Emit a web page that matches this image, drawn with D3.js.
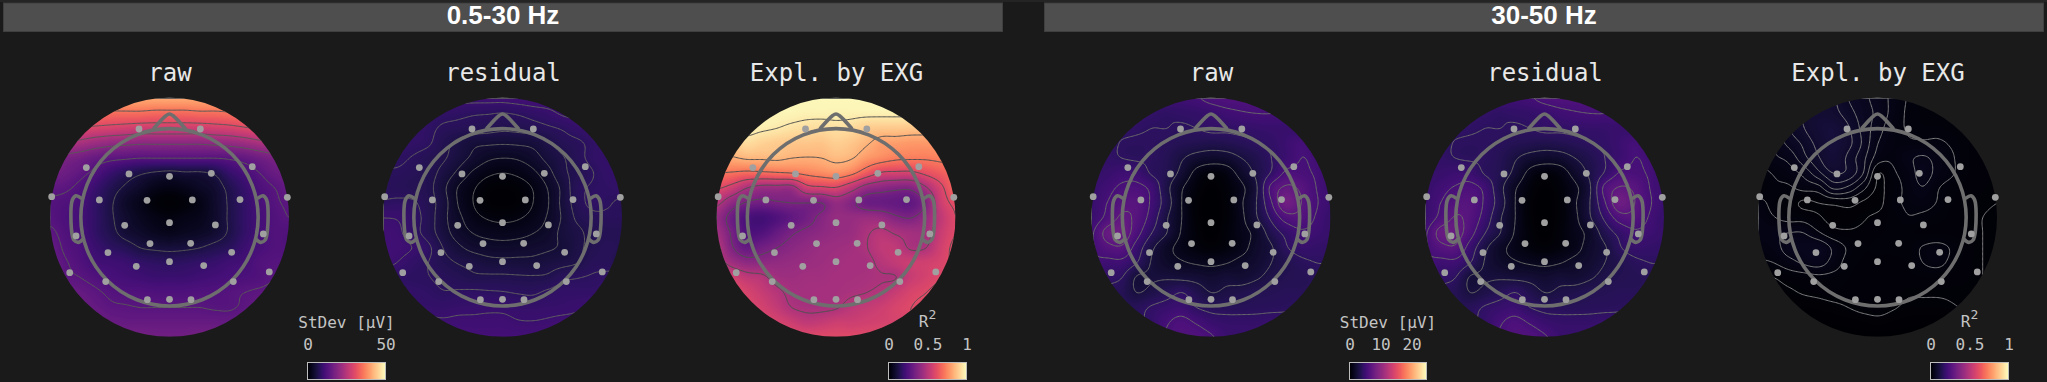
<!DOCTYPE html>
<html>
<head>
<meta charset="utf-8">
<script src="https://cdn.jsdelivr.net/npm/d3@7"></script>
<style>
html, body { margin: 0; padding: 0; background: #1a1a1a; }
svg { display: block; }
.bandTitle { font-family: "Liberation Sans", sans-serif; font-weight: bold; font-size: 26px; fill: #fff; text-anchor: middle; }
.panelTitle { font-family: "DejaVu Sans Mono", monospace; font-size: 24px; fill: #e8e8e8; text-anchor: middle; }
.barTitle { font-family: "DejaVu Sans Mono", monospace; font-size: 16px; fill: #c4c4c4; text-anchor: middle; }
.barAxis text { font-family: "DejaVu Sans Mono", monospace; font-size: 16px; fill: #c4c4c4; }
</style>
</head>
<body>
<div id="chart"></div>
<script>
/* sensor positions, unit = topomap radius, y up */
var sensorX = [-.255,.258,-.696,-.339,0,.35,.693,-.986,-.587,-.188,.191,.59,.986,-.782,-.375,0,.384,.785,-.515,-.163,.177,.52,-.278,0,.286,-.835,.835,-.534,.534,-.185,0,.18]
var sensorY = [.739,.739,.416,.363,.343,.368,.424,.173,.145,.142,.145,.148,.167,-.156,-.067,-.045,-.064,-.139,-.296,-.22,-.218,-.293,-.41,-.371,-.404,-.463,-.457,-.538,-.538,-.689,-.686,-.689]

var bandTitles = ["0.5-30 Hz","30-50 Hz"]
var panelTitles = ["raw","residual","Expl. by EXG"]

/* field values, percent of the colour range,
   17 x 17 cells, rows top to bottom, columns left to right */
var rawWide = [
[82,82,82,82,82,82,82,82,82,82,82,82,82,82,82,82,82],
[72,72,71,71,70,70,70,69,69,69,70,70,71,72,73,73,73],
[61,61,60,59,58,57,56,56,56,56,56,57,58,60,62,62,62],
[49,49,47,44,42,41,40,40,40,40,40,41,42,44,47,49,49],
[38,36,34,31,29,28,27,27,27,27,27,27,28,30,33,36,38],
[34,32,29,25,20,16,13,11,10,11,11,13,19,23,27,31,33],
[29,28,25,20,15,11,8,5,4,5,7,9,14,19,24,27,30],
[26,25,23,18,13,8,5,2,1,2,4,8,13,18,23,26,28],
[26,24,22,18,13,9,6,4,3,4,5,8,13,18,22,25,27],
[28,25,23,18,14,10,8,6,5,6,7,9,13,18,22,25,25],
[30,26,24,20,17,15,12,11,10.5,11,12,14,16,20,23,25,25],
[31,27.5,25,22,21,20,18,17,16.5,17,18,19,21,22,25,26,26],
[33,28.5,27,25,23,22,21,20,20,20,21,22,23,24,25,27,28],
[35,32,30,28,26,25,25,24.5,24.5,24.5,25,25,26,27,28,29,30],
[37,34,32,30,28,27.5,27,27,27,27,27,26.5,26.5,28,30,32,33],
[39,36,34,33,31,30,30,30,30,30,30,30,30,31,33,35,37],
[39,39,37,36,35,34,34,33,33,33,34,34,35,36,37,39,39]]

var residualWide = [
[21,21,21,21,21,21,21,21,21,21.5,22,22,22,22,21,21,21],
[19,19,19,18.5,18,17.5,17,16.8,16.5,17,18,19,20.5,21,21,20,19],
[18,18,18,17.5,16,15.5,15,14.5,14,14.3,15,16,17,18.5,19,18.5,18],
[18,18,17.8,17,14.5,12.5,10.8,10.5,10.3,10.5,11,12.8,15,16,17.5,18,18],
[17.5,17.2,16.3,15,13.7,11.5,9.2,7.2,6.6,7,8.5,11,13,15.5,17.5,18.3,18],
[16.2,16.2,15.5,14.5,12.2,9.2,6,4,3.3,4,5.8,8.8,12.5,14.5,16.5,18,18],
[15.8,15.6,15,14.2,10.8,6.4,3.7,1.5,1,1.5,3.5,6.8,11,15.5,17,17.5,18],
[17,17.3,17,14.7,11.5,6.4,3.3,1,.5,1,3.3,6.4,11,15,17.5,16.9,16],
[20,19.7,18,15,11,7.5,4.5,3,2.5,3,4.5,7,10.5,14,15.5,16,16],
[21,20.5,18,15,11.5,8.5,6.5,5.5,5.2,5.5,6.5,8,11,12.5,14.5,15,15],
[21.5,21,19.8,17.3,13.2,10.7,9,8.3,8,8.3,8.8,9.5,10.6,12.5,14.5,15.5,15],
[21,19.8,18,16.6,14.5,13.1,12.2,11.2,11,11,11,11.7,12.3,13.3,15.5,15.5,15],
[18,17.5,17,16.7,15.8,15,14,14,14,13.8,13.7,14,15.9,16.5,17,17.5,18],
[19,18.5,18,17.5,16.8,17,17.2,17,16.8,16.4,16.2,17.2,18,18,18,18.5,19],
[21,20,18.5,18.5,18.3,18.8,19,19.3,19.2,18.6,18.5,18.8,19,19.6,20.5,21,21],
[21,21,21,21,20.7,21,21,21,21,20.3,20.2,20.5,21,21,21,21,21],
[22,22,22,22,22,22,22,22,22,22,22,22,22,22,22,22,22]]

var explWide = [
[99,99,99,99,99,99,99,99,99,99,99,99,99,99,99,99,99],
[98,98,98,98,98,98,97.5,97.5,97.5,97.5,97.5,97.5,97.5,97.5,97.5,97.5,97.5],
[98,98,98,97,96,94.5,93.5,93,94,93,90,89,89,88.5,88.5,89,90],
[90,90,93,91,89.5,88.5,88.5,88,90,88.5,85,80.5,80,79,79,80,81],
[82,83,85,85,85.5,84,83.5,84,86,84.5,79,76,73.5,73,73,74,75],
[72,71,69.5,70,71,72,74,76,77.5,74,66,59,58,58,62,66,69],
[61,56,48,44,44,44,56,58,59,52,43,40,38,38,47,58,68],
[50,41,35,33.5,35,36,36,36,42,38,32,31,30,29,37,55,62],
[42,32,24,22,25,29,33,38,42,42,43,42,37.5,36,42,52,60],
[45,34.5,25,25,30,35,38,40,42,43,47,50,47,45,45.5,54,60],
[50,37,30,33,36,39,41,43,44,45,47.7,52,52,47,48,56,62],
[52,44.5,40,40,41,42,43,44,45,46,46,50,53,55,56,58,62],
[62,57,52,50,45,44,45,45,46,46,46.5,47.5,48,54,57,60,64],
[66,62,58,54,50,46,45.5,46,46,47,48,50,54,58,60,63,66],
[66,63,60,57,53,48,46.5,46.5,47.5,51,53,55,58,60,62,64,66],
[66,64,62,60,58,55,52,53,55,55,56,57,58,60,62,64,66],
[68,66,65,64,62,61,60,60,60,60,60,61,62,64,65,66,68]]

var rawHigh = [
[20,20,20,20,20,21,21,22,24,25,25,25,25,24,22,21,21],
[19,19,19,18.5,18,17.5,18,18.5,19.5,21,22,22.5,22.5,21.5,20,19,19],
[18,18,18,17.5,17,17,16.5,17,18,18,18.5,19,19.5,19.5,18.5,19,19],
[18,18,16.8,16.5,16.5,16,15,14.5,14,14.5,15.5,16.8,18,20,22,20,19],
[18.5,18,17,16.5,16.5,15,12,9.5,8.5,9,11.5,14,17,20,22.5,21.5,20],
[18.5,19,20.5,20,16.5,14.5,10,4.5,2.5,3.5,8,12.5,17.5,23.5,23.5,22,20],
[19,21,23.5,24,21,13,6.5,2.5,.5,2,5,11,24,29,27,22.5,20],
[19.5,22.5,26,26.5,21.5,14,6,1.5,0,1.5,5.5,11.5,22,33,28,23,20],
[19.5,24,29,26.5,20,12,6,1.5,0,1.5,5,11,18,25,26,22,19],
[22,30,31.5,24.5,17,11.5,5.5,2,0,2,4.5,7.5,14,18.5,21.5,20.5,19],
[22,26,27,20,12.5,7.5,4.5,2.5,1.5,2.5,4.5,8,11,16.5,19,18.5,18],
[22,21,21,17,11,8,6.5,5.5,5,5.8,7.5,9,11.5,14,16,17,17],
[19,18,17,11,11,11,10.5,10,9,10,9.5,11,13,14.5,15,15.5,16],
[18,16.5,15,11.5,13,15,17,14,11.5,12.5,13.5,14.5,15,15.5,15.5,16,16],
[17,16,15.5,15.5,17.5,19,20,17,15.5,15.5,15.5,15.8,16,16.3,17,18,18],
[18,17,16.5,16.5,18.5,22,24,22,19.5,18.5,18.5,18.5,19,19,19,19,19],
[19,19,19,19,20,23,25,25,23,20,19,19,19,19,19,19,19]]

var residualHigh = [
[20,20,20,20,20,21,21,22,24,25,25,25,25,24,22,21,21],
[19,19,19,18.5,18,17.5,18,18.5,19.5,21,22,22.5,22.5,21.5,20,19,19],
[18,18,18,17.5,17,17,16.5,17,18,18,18.5,19,19,19.5,18.5,19,19],
[18,18,16.8,16.5,16.5,16,15,14.5,14,14.5,15.5,16.8,18,20,22,20,19],
[18.5,18,17,16.5,16.5,15,12,9.5,8.5,9,11.5,14,17,20,22.5,21.5,20],
[18.5,19,20,20,16.5,14.5,10,4.5,2.5,3.5,8,12.5,17.5,23,23.5,22,20],
[19,21,23,24,21,13,6.5,2.5,.5,2,5,11,24,28.5,27,22.5,20],
[19.5,22.5,25.5,26,21.5,14,6,1.5,0,1.5,5.5,11.5,22,32,28,23,20],
[19.5,24,28.5,26,20,12,6,1.5,0,1.5,5,11,18,25,26,22,19],
[22,30,30.5,24.5,17,11.5,5.5,2,0,2,4.5,7.5,14,18.5,21.5,20.5,19],
[22,26,27,20,12.5,7.5,4.5,2.5,1.5,2.5,4.5,8,11,16.5,19,18.5,18],
[22,21,21,17,11,8,6.5,5.5,5,5.8,7.5,9,11.5,14,16,17,17],
[19,18,17,11,11,11,10.5,10,9,10,9.5,11,13,14.5,15,15.5,16],
[18,16.5,15,11.5,13,15,17,14,11.5,12.5,13.5,14.5,15,15.5,15.5,16,16],
[17,16,15.5,15.5,17.5,19,20,17,15.5,15.5,15.5,15.8,16,16.3,17,18,18],
[18,17,16.5,16.5,18.5,22,24,22,19.5,18.5,18.5,18.5,19,19,19,19,19],
[19,19,19,19,20,23,25,25,23,20,19,19,19,19,19,19,19]]

var explHigh = [
[7,7,7,8,8.5,8.6,7,6,5,3.8,2.7,2.3,2,2,2,2,2],
[6.5,7,7.5,8.5,9.5,9,7.6,6.3,5.2,3.7,2.6,2.3,2,2,2,2,2],
[4,5.8,7,8.3,9.8,10.5,8.6,6.5,4.8,3.3,2.7,2.4,2.4,2.2,2,2,2],
[3.2,4.4,6,7.3,9,10.5,8.9,6.7,4.2,3.2,3,3,3,2.6,2,1.8,1.8],
[2.8,3.9,4.6,6.5,8.2,10,8,6,3.5,3,3.9,4.4,3.7,2.9,2,1.8,1.6],
[2.4,2.9,3.5,4.6,6.6,8.4,8,5.6,1.5,2.6,3.4,4.8,3.7,2.9,2,1.7,1.5],
[1.9,2.6,2.6,3.2,3.6,5.8,5.2,3.2,1.2,2.2,3.2,4.1,2.9,2.2,1.8,1.6,1.5],
[3.2,2.4,2,1.2,1.4,1.7,1.9,1.2,1,2.4,3,3.3,2.7,2,1.7,1.5,1.4],
[3.6,2.9,2.4,2.3,1.6,1,1,1.3,1.7,2.1,2.7,2.5,2.2,1.8,1.6,1.4,1.3],
[3.8,3.9,4.2,4.2,3,1.9,1.6,1.7,1.9,2,2,1.9,1.9,1.8,1.6,1.4,1.2],
[3.2,3.6,4.8,5.2,5.4,3.9,2.6,2,2,2,2.2,2.9,3.2,2.6,1.8,1.4,1.2],
[2.6,2.8,3.6,4.4,4.8,3.6,2.3,1.9,1.9,1.9,2,2.8,3.1,2.4,1.7,1.4,1.2],
[1.3,1.4,1.9,2.1,2.4,2.3,2,1.7,1.7,1.7,1.8,2,2,1.8,1.6,1.4,1.2],
[1,1,1.2,1.5,1.7,1.9,1.8,1.7,1.7,1.7,1.5,1.5,1.5,1.5,1.5,1.4,1.2],
[.8,.8,.8,.8,.9,1.1,1.4,1.7,1.8,1.5,1.2,1.2,1.2,1.3,1.5,1.4,1.2],
[.5,.5,.5,.5,.5,.5,.6,.8,1,.8,.6,.5,.5,.5,.6,.6,.6],
[.2,.2,.2,.2,.2,.2,.2,.2,.2,.2,.2,.2,.2,.2,.2,.2,.2]]

/* contour levels for the panels, same units as the fields */
var levelsRawWide = [12,27,39,50,61,72]
var levelsResidualWide = [3.3,6.6,10,13.3,16.6,20]
var levelsExplWide = [36,48,60,72,84,96]
var levelsRawHigh = [6,11.5,17,22.5,28,33.5]
var levelsResidualHigh = [6,11.5,17,22.5,28,33.5]
var levelsExplHigh = [1.4,2.8,4.2,5.6,7,8.4]

/* colour bars */
var barWideDomain = [0,50]
var barWideTicks = [0,50]
var barHighDomain = [0,24.8]
var barHighTicks = [0,10,20]
var barR2Domain = [0,1]
var barR2Ticks = [0,0.5,1]

/* head outline, unit = topomap radius */
var noseX = [-.13,-.03,0,.03,.13]
var noseY = [.745,.85,.865,.85,.745]
var earX = [-.74,-.782,-.813,-.82,-.80,-.763,-.727]
var earY = [.16,.18,.145,-.105,-.19,-.21,-.185]
var headRadius = .742

var width = 2047
var height = 382
var radius = 119.5
var centerY = 217.3
var contourSize = 193

var svg = d3.select("#chart").append("svg")
  .attr("width",width)
  .attr("height",height)
var defs = svg.append("defs")

var colorScale = d3.scaleSequential(d3.interpolateMagma).domain([0,100])

/* header bars */
svg.append("rect")
  .attr("width",width)
  .attr("height",2)
  .attr("fill","#242424")
var bandBars = [
  {x:3,w:1000,title:bandTitles[0]},
  {x:1044,w:1000,title:bandTitles[1]}
]
bandBars.forEach(function(b) {
  svg.append("rect")
    .attr("x",b.x + .5)
    .attr("y",3)
    .attr("width",b.w - 1)
    .attr("height",28.5)
    .attr("fill","#4e4e4e")
    .attr("stroke","#3f3f3f")
    .attr("stroke-width",1)
  svg.append("text")
    .attr("class","bandTitle")
    .attr("x",b.x + b.w / 2)
    .attr("y",24)
    .text(b.title)
})

/* smooth reading of a value grid */
function cubic(p0,p1,p2,p3,t) {
  return p1 + .5 * t * (p2 - p0 + t * (2 * p0 - 5 * p1 + 4 * p2 - p3 + t * (3 * (p1 - p2) + p3 - p0)))
}
function sampleGrid(grid,gx,gy) {
  var n = grid.length
  var ix = Math.max(0,Math.min(n - 2,Math.floor(gx)))
  var iy = Math.max(0,Math.min(n - 2,Math.floor(gy)))
  var tx = gx - ix
  var ty = gy - iy
  function cell(r,c) {
    return grid[Math.max(0,Math.min(n - 1,r))][Math.max(0,Math.min(n - 1,c))]
  }
  var rows = [-1,0,1,2].map(function(dr) {
    return cubic(cell(iy + dr,ix - 1),cell(iy + dr,ix),cell(iy + dr,ix + 1),cell(iy + dr,ix + 2),tx)
  })
  return cubic(rows[0],rows[1],rows[2],rows[3],ty)
}

function drawTopomap(cx,title,grid,levels,lineColor,id) {
  var xScale = d3.scaleLinear().domain([-1,1]).range([cx - radius,cx + radius])
  var yScale = d3.scaleLinear().domain([-1,1]).range([centerY + radius,centerY - radius])

  svg.append("text")
    .attr("class","panelTitle")
    .attr("x",cx + .5)
    .attr("y",81)
    .text(title)

  defs.append("clipPath")
    .attr("id",id)
    .append("circle")
    .attr("cx",cx)
    .attr("cy",centerY)
    .attr("r",radius)

  /* heat image */
  var size = Math.round(radius * 2)
  var canvas = document.createElement("canvas")
  canvas.width = size
  canvas.height = size
  var ctx = canvas.getContext("2d")
  var img = ctx.createImageData(size,size)
  for (var py = 0; py < size; py++) {
    for (var px = 0; px < size; px++) {
      var v = sampleGrid(grid,(px + .5) / size * (grid.length - 1),(py + .5) / size * (grid.length - 1))
      var c = d3.rgb(colorScale(Math.max(0,Math.min(100,v))))
      var k = (py * size + px) * 4
      img.data[k] = c.r
      img.data[k + 1] = c.g
      img.data[k + 2] = c.b
      img.data[k + 3] = 255
    }
  }
  ctx.putImageData(img,0,0)
  svg.append("image")
    .attr("x",cx - radius)
    .attr("y",centerY - radius)
    .attr("width",radius * 2)
    .attr("height",radius * 2)
    .attr("href",canvas.toDataURL())
    .attr("clip-path","url(#" + id + ")")

  /* contour lines */
  var values = new Array(contourSize * contourSize)
  for (var j = 0; j < contourSize; j++) {
    for (var i = 0; i < contourSize; i++) {
      values[j * contourSize + i] = sampleGrid(grid,i / (contourSize - 1) * (grid.length - 1),j / (contourSize - 1) * (grid.length - 1))
    }
  }
  var contours = d3.contours().size([contourSize,contourSize]).thresholds(levels)(values)
  var toScreen = d3.geoTransform({point:function(x,y) {
    this.stream.point(
      xScale(x / (contourSize - 1) * 2 - 1),
      yScale(1 - y / (contourSize - 1) * 2)
    )
  }})
  var contourPath = d3.geoPath(toScreen)
  svg.append("g")
    .attr("clip-path","url(#" + id + ")")
    .selectAll("path")
    .data(contours)
    .enter()
    .append("path")
    .attr("d",contourPath)
    .attr("fill","none")
    .attr("stroke",lineColor)
    .attr("stroke-width",1)

  /* head */
  var outline = svg.append("g")
    .attr("fill","none")
    .attr("stroke","#6e6e6e")
    .attr("stroke-width",3.6)
    .attr("stroke-linejoin","round")
    .attr("stroke-linecap","round")
  outline.append("circle")
    .attr("cx",cx)
    .attr("cy",centerY)
    .attr("r",headRadius * radius)
  var noseLine = d3.line()
    .x(function(d,i) { return xScale(noseX[i]) })
    .y(function(d,i) { return yScale(noseY[i]) })
    .curve(d3.curveCatmullRom)
  outline.append("path").attr("d",noseLine(noseX))
  var earLeft = d3.line()
    .x(function(d,i) { return xScale(earX[i]) })
    .y(function(d,i) { return yScale(earY[i]) })
    .curve(d3.curveCatmullRom)
  var earRight = d3.line()
    .x(function(d,i) { return xScale(-earX[i]) })
    .y(function(d,i) { return yScale(earY[i]) })
    .curve(d3.curveCatmullRom)
  outline.append("path").attr("d",earLeft(earX))
  outline.append("path").attr("d",earRight(earX))

  /* sensors */
  svg.append("g")
    .selectAll("circle")
    .data(sensorX)
    .enter()
    .append("circle")
    .attr("cx",function(d) { return xScale(d) })
    .attr("cy",function(d,i) { return yScale(sensorY[i]) })
    .attr("r",3.4)
    .attr("fill","#a0a0a0")
}

/* colour bars */
var gradient = defs.append("linearGradient").attr("id","magmaBar")
d3.range(0,1.001,.02).forEach(function(t) {
  gradient.append("stop")
    .attr("offset",t * 100 + "%")
    .attr("stop-color",d3.interpolateMagma(t))
})

function drawBar(x0,x1,domain,ticks,title,format) {
  var barScale = d3.scaleLinear().domain(domain).range([x0,x1])
  svg.append("rect")
    .attr("x",x0)
    .attr("y",362.5)
    .attr("width",x1 - x0)
    .attr("height",17)
    .attr("fill","url(#magmaBar)")
    .attr("stroke","#bdbdbd")
    .attr("stroke-width",1)
  var axis = d3.axisTop(barScale)
    .tickValues(ticks)
    .tickSize(0)
    .tickPadding(0)
    .tickFormat(format)
  var axisG = svg.append("g")
    .attr("class","barAxis")
    .attr("transform","translate(0,350)")
    .call(axis)
  axisG.select(".domain").remove()
  axisG.selectAll("text").attr("dy",0)
  if (title == "R2") {
    var rText = svg.append("text")
      .attr("class","barTitle")
      .attr("x",(x0 + x1) / 2)
      .attr("y",327)
    rText.append("tspan").text("R")
    rText.append("tspan").attr("dy",-8).attr("font-size",13).text("2")
  }
  else {
    svg.append("text")
      .attr("class","barTitle")
      .attr("x",(x0 + x1) / 2)
      .attr("y",328)
      .text(title)
  }
}

var centers = [169.5,502.5,836,1211,1544.5,1877.5]
var lineColors = ["#585858","#606060","#505050","#6a6a6a","#6a6a6a","#808080"]
drawTopomap(centers[0],panelTitles[0],rawWide,levelsRawWide,lineColors[0],"clip0")
drawTopomap(centers[1],panelTitles[1],residualWide,levelsResidualWide,lineColors[1],"clip1")
drawTopomap(centers[2],panelTitles[2],explWide,levelsExplWide,lineColors[2],"clip2")
drawTopomap(centers[3],panelTitles[0],rawHigh,levelsRawHigh,lineColors[3],"clip3")
drawTopomap(centers[4],panelTitles[1],residualHigh,levelsResidualHigh,lineColors[4],"clip4")
drawTopomap(centers[5],panelTitles[2],explHigh,levelsExplHigh,lineColors[5],"clip5")

var plainFormat = d3.format("")
drawBar(307.5,385.5,barWideDomain,barWideTicks,"StDev [\u03bcV]",plainFormat)
drawBar(888.5,966.5,barR2Domain,barR2Ticks,"R2",plainFormat)
drawBar(1349.5,1426.5,barHighDomain,barHighTicks,"StDev [\u03bcV]",plainFormat)
drawBar(1930.5,2008.5,barR2Domain,barR2Ticks,"R2",plainFormat)
</script>
</body>
</html>
